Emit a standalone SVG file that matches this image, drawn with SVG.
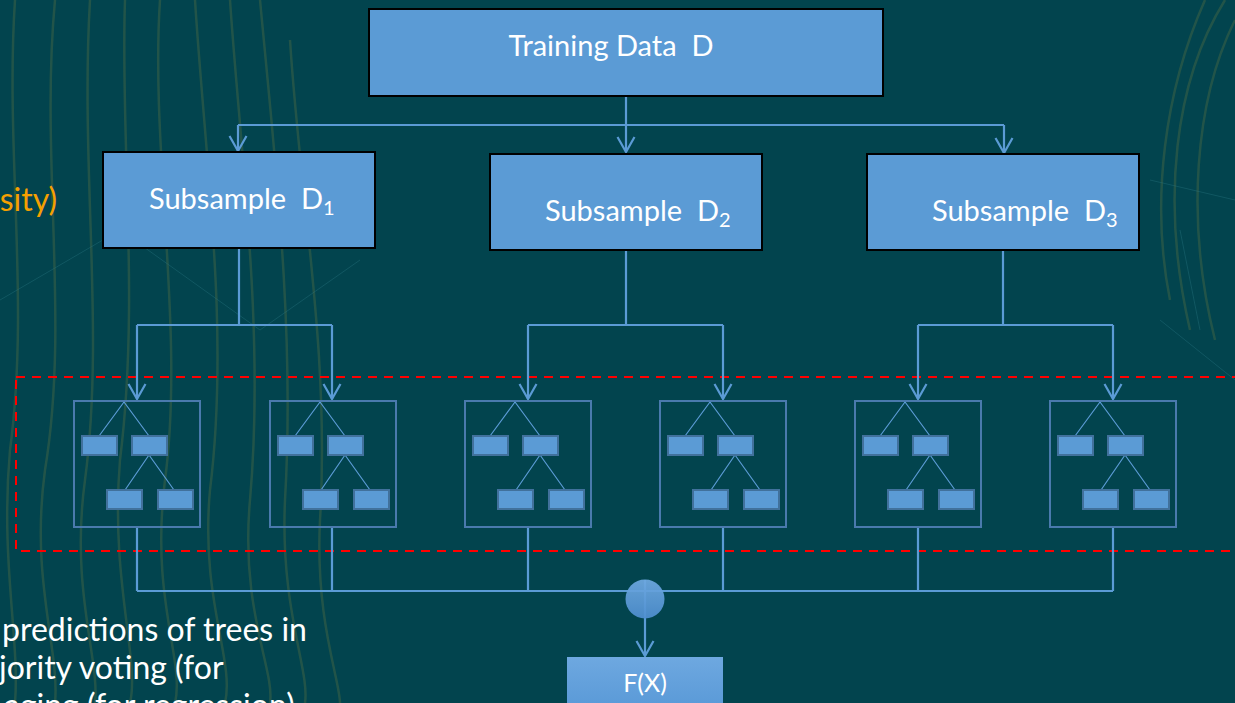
<svg xmlns="http://www.w3.org/2000/svg" xmlns:xlink="http://www.w3.org/1999/xlink" width="1235" height="703" viewBox="0 0 1235 703">
<style>
.bg{fill:#02444e}
.deco{fill:none;stroke:#8a8a3c;stroke-width:2.5;opacity:0.24}
.deco2{fill:none;stroke:#2f7a86;stroke-width:1;opacity:0.35}
.box{fill:#5b9bd5;stroke:#000;stroke-width:2}
.lbl{font-family:Lato,"Open Sans",sans-serif;font-size:29px;fill:#ffffff;white-space:pre}
.sub{font-size:20px}
.side{font-family:Lato,"Open Sans",sans-serif;font-size:32px;fill:#ffffff;white-space:pre}
.orange{fill:#f5a000}
.conn{fill:none;stroke:#5b9bd5;stroke-width:2.2}
.tbox{fill:none;stroke:#4a7aad;stroke-width:2}
.leaf{fill:#5b9bd5;stroke:#41719c;stroke-width:2}
.tline{fill:none;stroke:#5b9bd5;stroke-width:1.2}
.dash{fill:none;stroke:#ff0000;stroke-width:2;stroke-dasharray:9 7}
</style>
<defs>
<marker id="arr" viewBox="-17 -10 19 20" markerUnits="userSpaceOnUse" markerWidth="19" markerHeight="20" refX="0" refY="0" orient="auto">
<path d="M-15,-8.5 L0,0 L-15,8.5" fill="none" stroke="#5b9bd5" stroke-width="2.2"/>
</marker>
<linearGradient id="gcirc" x1="0" y1="0" x2="0" y2="1">
<stop offset="0" stop-color="#6ea8e0"/>
<stop offset="1" stop-color="#4f8fd0"/>
</linearGradient>
<linearGradient id="gfx" x1="0" y1="0" x2="0" y2="1">
<stop offset="0" stop-color="#6ea8e0"/>
<stop offset="1" stop-color="#5697d6"/>
</linearGradient>
<g id="treeShape">
<rect class="tbox" x="0" y="0" width="126" height="126"/>
<path class="tline" d="M50,1 L25,35 M50,1 L75,35 M75,54 L51,89 M75,54 L100,89"/>
<rect class="leaf" x="8" y="35" width="35" height="19"/>
<rect class="leaf" x="58" y="35" width="35" height="19"/>
<rect class="leaf" x="33" y="89" width="35" height="19"/>
<rect class="leaf" x="84" y="89" width="35" height="19"/>
</g>
</defs>
<rect class="bg" x="0" y="0" width="1235" height="703"/>
<g id="background">
<path class="deco" d="M15,0 C5,150 30,300 10,450 C0,560 20,640 15,703"/>
<path class="deco" d="M55,0 C40,160 70,320 45,470 C30,580 60,650 55,703"/>
<path class="deco" d="M90,0 C80,170 105,330 85,480 C70,590 100,660 95,703"/>
<path class="deco" d="M125,0 C120,140 140,300 120,460 C110,580 140,660 130,703"/>
<path class="deco" d="M160,0 C150,150 185,330 165,480 C150,600 185,660 175,703"/>
<path class="deco" d="M195,0 C205,160 230,330 210,490 C200,600 235,660 225,703"/>
<path class="deco" d="M230,0 C240,150 265,330 250,500 C240,610 275,670 270,703"/>
<path class="deco" d="M260,0 C275,160 295,330 285,500 C280,610 310,670 305,703"/>
<path class="deco" d="M290,40 C300,200 330,350 320,520 C315,620 340,680 340,703"/>
<path class="deco" d="M1225,0 C1175,80 1160,200 1190,330"/>
<path class="deco" d="M1235,20 C1195,100 1185,220 1215,340"/>
<path class="deco" d="M1205,0 C1165,90 1150,200 1170,300"/>
<path class="deco2" d="M0,300 L120,230 L260,330 L360,260"/>
<path class="deco2" d="M1150,180 L1235,200 M1160,320 L1235,380 M1180,230 L1200,330"/>
</g>
<g id="region">
<rect class="dash" x="16" y="377" width="1240" height="174"/>
</g>
<g id="connectors">
<path class="conn" d="M626,96 V152" marker-end="url(#arr)"/>
<path class="conn" d="M238,125 H1004"/>
<path class="conn" d="M238,125 V151" marker-end="url(#arr)"/>
<path class="conn" d="M1004,125 V153" marker-end="url(#arr)"/>
<path class="conn" d="M239,248 V325 M137,325 H332"/>
<path class="conn" d="M137,325 V399" marker-end="url(#arr)"/>
<path class="conn" d="M332,325 V399" marker-end="url(#arr)"/>
<path class="conn" d="M626,250 V325 M528,325 H723"/>
<path class="conn" d="M528,325 V399" marker-end="url(#arr)"/>
<path class="conn" d="M723,325 V399" marker-end="url(#arr)"/>
<path class="conn" d="M1003,250 V325 M918,325 H1113"/>
<path class="conn" d="M918,325 V399" marker-end="url(#arr)"/>
<path class="conn" d="M1113,325 V399" marker-end="url(#arr)"/>
<path class="conn" d="M137,527 V591 M332,527 V591 M528,527 V591 M723,527 V591 M918,527 V591 M1113,527 V591 M137,591 H1113"/>
<path class="conn" d="M645,580 V656" marker-end="url(#arr)"/>
</g>
<g id="training">
<rect class="box" x="369" y="9" width="514" height="87"/>
<text class="lbl" x="611" y="56" text-anchor="middle" xml:space="preserve">Training Data  D</text>
</g>
<g id="subsample1">
<rect class="box" x="103" y="152" width="272" height="96"/>
<text class="lbl" x="149" y="209" xml:space="preserve">Subsample  D<tspan class="sub" dy="6">1</tspan></text>
</g>
<g id="subsample2">
<rect class="box" x="490" y="154" width="272" height="96"/>
<text class="lbl" x="545" y="221" xml:space="preserve">Subsample  D<tspan class="sub" dy="6">2</tspan></text>
</g>
<g id="subsample3">
<rect class="box" x="867" y="154" width="272" height="96"/>
<text class="lbl" x="932" y="221" xml:space="preserve">Subsample  D<tspan class="sub" dy="6">3</tspan></text>
</g>
<g id="tree1"><use xlink:href="#treeShape" href="#treeShape" x="74" y="401"/></g>
<g id="tree2"><use xlink:href="#treeShape" href="#treeShape" x="270" y="401"/></g>
<g id="tree3"><use xlink:href="#treeShape" href="#treeShape" x="465" y="401"/></g>
<g id="tree4"><use xlink:href="#treeShape" href="#treeShape" x="660" y="401"/></g>
<g id="tree5"><use xlink:href="#treeShape" href="#treeShape" x="855" y="401"/></g>
<g id="tree6"><use xlink:href="#treeShape" href="#treeShape" x="1050" y="401"/></g>
<g id="aggregate">
<circle cx="645" cy="599" r="19.5" fill="url(#gcirc)" opacity="0.93"/>
</g>
<g id="fx">
<rect x="567" y="657" width="156" height="60" fill="url(#gfx)"/>
<text class="lbl" x="645" y="692" text-anchor="middle" style="font-size:25px">F(X)</text>
</g>
<g id="sidetext">
<text class="side orange" x="57" y="211" text-anchor="end">sity)</text>
<text class="side" x="2" y="641">predictions of trees in</text>
<text class="side" x="-1" y="679">jority voting (for</text>
<text class="side" x="4" y="717">aging (for regression)</text>
</g>
</svg>
